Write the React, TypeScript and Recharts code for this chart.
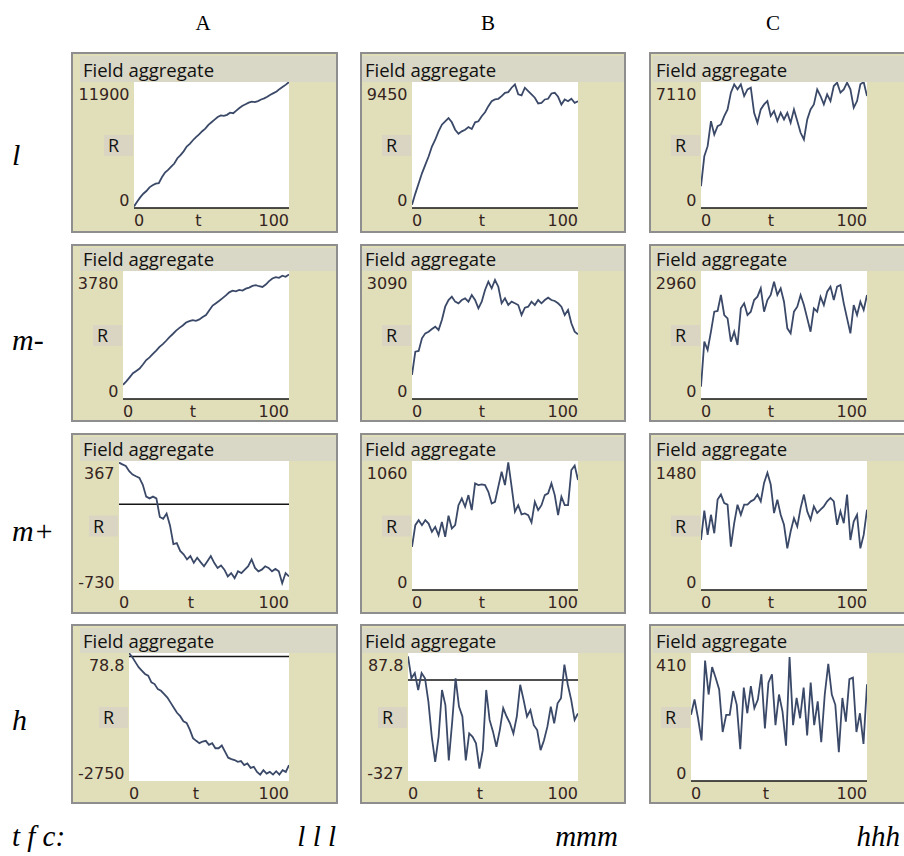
import { LineChart, Line, XAxis, YAxis, CartesianGrid, ReferenceLine } from 'recharts';

// time steps shared by every panel
const T = [0, 2, 4, 6, 8, 10, 12, 14, 16, 18, 20, 22, 24, 26, 28, 30, 32, 34, 36, 38, 40, 42, 44, 46, 48, 50,
  52, 54, 56, 58, 60, 62, 64, 66, 68, 70, 72, 74, 76, 78, 80, 82, 84, 86, 88, 90, 92, 94, 96, 98, 100];

const COLUMNS = ['A', 'B', 'C'];
const ROW_LABELS = ['l', 'm-', 'm+', 'h'];
const FOOTER_LEFT = 't f c:';
const FOOTER = ['l l l', 'mmm', 'hhh'];
const PLOT_TITLE = 'Field aggregate';
const X_NAME = 't';
const Y_NAME = 'R';
const X_TICKS = [0, 100];

// y range labels per panel [row][col]
const Y_TOP = [[11900, 9450, 7110], [3780, 3090, 2960], [367, 1060, 1480], [78.8, 87.8, 410]];
const Y_BOTTOM = [[0, 0, 0], [0, 0, 0], [-730, 0, 0], [-2750, -327, 0]];

// row l
const l_A = [150, 600, 1000, 1350, 1600, 1950, 2150, 2300, 2350, 2900, 3350, 3600, 3900, 4200, 4700, 5000, 5350,
  5800, 6050, 6400, 6700, 6950, 7250, 7500, 7850, 8100, 8350, 8600, 8750, 8700, 8800, 9000, 8950, 9200, 9450, 9650,
  9800, 9950, 10050, 10000, 10100, 10250, 10350, 10500, 10700, 10850, 11000, 11250, 11450, 11650, 11900];
const l_B = [250, 1080, 1840, 2600, 3230, 3860, 4610, 5120, 5750, 6250, 6500, 6750, 6430, 5870, 5570, 5750, 5870,
  6070, 5920, 6430, 6500, 6880, 7180, 7640, 8010, 8140, 8190, 8390, 8640, 8690, 9020, 9270, 8520, 8440, 9020, 8770,
  8520, 8270, 7840, 7890, 8140, 8190, 8590, 8640, 8340, 7760, 8140, 8010, 8190, 7890, 8010];
const l_C = [1226, 2923, 3489, 4904, 4149, 4621, 4715, 5187, 5564, 6507, 6978, 6695, 6978, 6318, 6695, 6790, 5375,
  4809, 5564, 5847, 6035, 5187, 5469, 4904, 5375, 4998, 5375, 4809, 5564, 4904, 4244, 3866, 4998, 5564, 5847, 6695,
  6318, 5847, 6412, 6035, 6884, 7073, 6507, 6695, 7073, 6695, 5658, 6035, 6978, 7110, 6318];

// row m-
const mMinus_A = [420, 520, 640, 760, 830, 900, 1020, 1150, 1230, 1330, 1430, 1540, 1620, 1720, 1830, 1920, 2020,
  2100, 2170, 2260, 2300, 2330, 2310, 2350, 2420, 2480, 2620, 2760, 2830, 2900, 2980, 3060, 3150, 3200, 3180, 3220,
  3200, 3260, 3290, 3340, 3360, 3330, 3310, 3380, 3480, 3560, 3600, 3580, 3640, 3610, 3680];
const mMinus_B = [580, 1143, 1159, 1465, 1585, 1625, 1690, 1746, 1666, 1907, 2229, 2390, 2470, 2350, 2310, 2390,
  2430, 2350, 2511, 2390, 2189, 2350, 2631, 2832, 2671, 2873, 2711, 2310, 2430, 2269, 2350, 2310, 2269, 2028, 2205,
  2229, 2350, 2269, 2390, 2310, 2390, 2446, 2390, 2366, 2310, 2229, 2028, 2148, 1827, 1625, 1561];
const mMinus_C = [285, 1326, 1133, 1557, 2019, 2035, 2405, 1942, 1865, 1326, 1557, 1249, 2097, 2212, 1942, 2019,
  2289, 2366, 2559, 2019, 2289, 2405, 2713, 2405, 2559, 2251, 1634, 1518, 2019, 2135, 2405, 2174, 1865, 1557, 2097,
  2019, 2366, 2174, 2482, 2598, 2289, 2598, 2636, 2212, 1865, 1518, 2174, 1942, 2251, 2058, 2405];

// row m+
const mPlus_A = [353, 338, 324, 280, 252, 237, 223, 165, 64, 49, 64, 49, -109, -124, -80, -181, -340, -332, -398,
  -427, -470, -441, -499, -456, -493, -528, -485, -441, -499, -542, -522, -557, -615, -586, -629, -571, -586, -557,
  -528, -470, -542, -571, -557, -528, -542, -571, -551, -571, -672, -586, -615];
const mPlus_B = [354, 533, 574, 533, 574, 546, 478, 519, 450, 560, 437, 610, 505, 533, 697, 752, 684, 780, 656, 876,
  862, 868, 862, 807, 711, 725, 849, 972, 862, 1049, 849, 643, 697, 621, 629, 615, 555, 725, 656, 697, 780, 794, 876,
  780, 615, 766, 697, 697, 986, 1022, 903];
const mPlus_C = [574, 910, 632, 863, 651, 1037, 1095, 998, 979, 497, 767, 979, 863, 979, 979, 1017, 1037, 1095, 1017,
  1229, 1345, 1210, 883, 1037, 863, 748, 478, 671, 825, 728, 940, 1095, 902, 805, 960, 883, 921, 960, 1017, 1056,
  1017, 748, 902, 767, 1095, 574, 786, 863, 478, 632, 921];

// row h
const h_A = [79, -11, -123, -235, -309, -384, -421, -571, -608, -720, -757, -832, -906, -1018, -1130, -1242, -1317,
  -1429, -1466, -1615, -1802, -1862, -1914, -1877, -1862, -1951, -1914, -2026, -2026, -1966, -2101, -2235, -2265,
  -2287, -2325, -2310, -2399, -2362, -2459, -2437, -2549, -2608, -2511, -2586, -2549, -2608, -2534, -2608, -2511,
  -2549, -2399];
const h_B = [77, 6, 23, -32, 23, 6, -70, -184, -265, -184, -32, -81, -260, -135, 6, -86, -118, -260, -173, -184,
  -205, -287, -227, -32, -129, -167, -216, -162, -91, -118, -140, -173, -118, -15, -64, -118, -97, -146, -162, -227,
  -195, -151, -86, -140, -75, -59, 50, -15, -64, -129, -108];
const h_C = [212, 261, 201, 130, 386, 277, 365, 331, 293, 157, 212, 212, 288, 244, 102, 299, 217, 304, 233, 261,
  342, 168, 315, 342, 179, 277, 222, 113, 397, 179, 266, 201, 299, 146, 315, 179, 255, 124, 277, 375, 277, 244, 92,
  266, 190, 326, 331, 157, 217, 119, 310];

const SERIES = [
  [l_A, l_B, l_C],
  [mMinus_A, mMinus_B, mMinus_C],
  [mPlus_A, mPlus_B, mPlus_C],
  [h_A, h_B, h_C],
];

// layout
const COL_X = [71, 360, 649];
const COL_W = [267, 266, 268];
const TITLE_INSET = [9, 2, 4];
const ROW_Y = [52, 244, 433, 624];
const ROW_H = [181, 178, 181, 180];
const PLOT_TOP = [30, 27, 28, 29];
const PLOT_BOTTOM = [156, 155, 157, 157];
const PLOT_RIGHT = 218;

const OLIVE = '#e1dfb9';
const TITLE_BG = '#d9d7c5';
const RBOX_BG = '#d9d5c2';
const LINE_COLOR = '#3b4968';
const LABEL_COLOR = '#35241f';
const TICK_FONT = '"DejaVu Sans", Verdana, sans-serif';
const UI_FONT = '"Open Sans", "Noto Sans", sans-serif';
const SERIF = '"Liberation Serif", "Times New Roman", serif';

const charW = (c: string) => (c === '-' ? 5.8 : c === '.' ? 5.1 : 10.2);
const textW = (s: string) => s.split('').reduce((a, c) => a + charW(c), 0);

function Panel({ row, col }: { row: number; col: number }) {
  const values = SERIES[row][col];
  const data = T.map((t, i) => ({ t, r: values[i] }));
  const yMax = Y_TOP[row][col];
  const yMin = Y_BOTTOM[row][col];
  const w = COL_W[col];
  const h = ROW_H[row];
  const pTop = PLOT_TOP[row];
  const pBottom = PLOT_BOTTOM[row];
  const yW = Math.round(7 + Math.max(textW(String(yMax)), textW(String(yMin))) + 4.5);

  const yTick = (props: any) => {
    const { y, payload } = props;
    const isTop = payload.value === yMax;
    return (
      <text x={yW - 4.5} y={isTop ? y + 17.5 : y - 2} textAnchor="end"
        fontFamily={TICK_FONT} fontSize={16} fill={LABEL_COLOR}>
        {String(payload.value)}
      </text>
    );
  };

  const xTick = (props: any) => {
    const { x, payload } = props;
    return (
      <text x={x} y={pBottom + 18} textAnchor={payload.value === 0 ? 'start' : 'end'}
        fontFamily={TICK_FONT} fontSize={16} fill={LABEL_COLOR}>
        {String(payload.value)}
      </text>
    );
  };

  const rBox = () => {
    const cy = (pTop + pBottom) / 2;
    const right = yW - 1;
    return (
      <g>
        <rect x={right - 29} y={cy - 10} width={29} height={21} fill={RBOX_BG} />
        <text x={right - 25} y={cy + 7} fontFamily={UI_FONT} fontSize={18} fill="#111">{Y_NAME}</text>
      </g>
    );
  };

  const tLabel = () => (
    <text x={(yW + PLOT_RIGHT) / 2 - 13} y={pBottom + 18} textAnchor="middle"
      fontFamily={TICK_FONT} fontSize={16} fill={LABEL_COLOR}>{X_NAME}</text>
  );

  return (
    <div style={{ position: 'absolute', left: COL_X[col], top: ROW_Y[row], width: w, height: h, background: OLIVE, overflow: 'hidden' }}>
      <div style={{ position: 'absolute', left: TITLE_INSET[col], right: 2, top: 4, height: pTop - 4, background: TITLE_BG }} />
      <div style={{ position: 'absolute', left: TITLE_INSET[col] + 3, top: pTop - 21, fontFamily: UI_FONT, fontSize: 18.5, lineHeight: '18px', color: '#111', whiteSpace: 'nowrap' }}>
        {PLOT_TITLE}
      </div>
      <div style={{ position: 'absolute', left: 0, top: 0 }}>
        <LineChart width={w} height={h} data={data} margin={{ top: pTop, right: w - PLOT_RIGHT, bottom: 0, left: 0 }}>
          <CartesianGrid horizontal={false} vertical={false} fill="#ffffff" stroke="none" />
          <XAxis dataKey="t" type="number" domain={[0, 100]} ticks={X_TICKS} interval={0} allowDataOverflow
            axisLine={false} tickLine={false} height={h - pBottom} tick={xTick}
            label={{ content: tLabel }} />
          <YAxis type="number" domain={[yMin, yMax]} ticks={[yMin, yMax]} interval={0} allowDataOverflow
            axisLine={false} tickLine={false} width={yW} tick={yTick}
            label={{ content: rBox }} />
          <ReferenceLine y={0} stroke="#151515" strokeWidth={1.5} />
          <Line type="linear" dataKey="r" stroke={LINE_COLOR} strokeWidth={1.8} dot={false} isAnimationActive={false} />
        </LineChart>
      </div>
      <div style={{ position: 'absolute', left: 0, top: 0, right: 0, bottom: 0, border: '2px solid #8e8e8e', boxSizing: 'border-box', pointerEvents: 'none' }} />
    </div>
  );
}

const HEADER_X = [203, 488, 773];
const ROW_LABEL_Y = [165, 350, 541, 730];
const FOOTER_X = [336, 618, 900];

export default function App() {
  return (
    <div style={{ position: 'absolute', left: 0, top: 0, width: 904, height: 856, background: '#ffffff', overflow: 'hidden' }}>
      {SERIES.map((rowSeries, r) => rowSeries.map((_, c) => <Panel key={`${r}-${c}`} row={r} col={c} />))}
      <svg width={904} height={856} style={{ position: 'absolute', left: 0, top: 0, pointerEvents: 'none' }}>
        {COLUMNS.map((name, i) => (
          <text key={name} x={HEADER_X[i]} y={30} textAnchor="middle" fontFamily={SERIF} fontSize={21} fill="#000">{name}</text>
        ))}
        {ROW_LABELS.map((name, i) => (
          <text key={name} x={12} y={ROW_LABEL_Y[i]} fontFamily={SERIF} fontStyle="italic" fontSize={30} fill="#000">{name}</text>
        ))}
        <text x={12} y={846} fontFamily={SERIF} fontStyle="italic" fontSize={29} fill="#000">{FOOTER_LEFT}</text>
        {FOOTER.map((s, i) => (
          <text key={s} x={FOOTER_X[i]} y={846} textAnchor="end" fontFamily={SERIF} fontStyle="italic" fontSize={29} fill="#000" xmlSpace="preserve">{s}</text>
        ))}
      </svg>
    </div>
  );
}
